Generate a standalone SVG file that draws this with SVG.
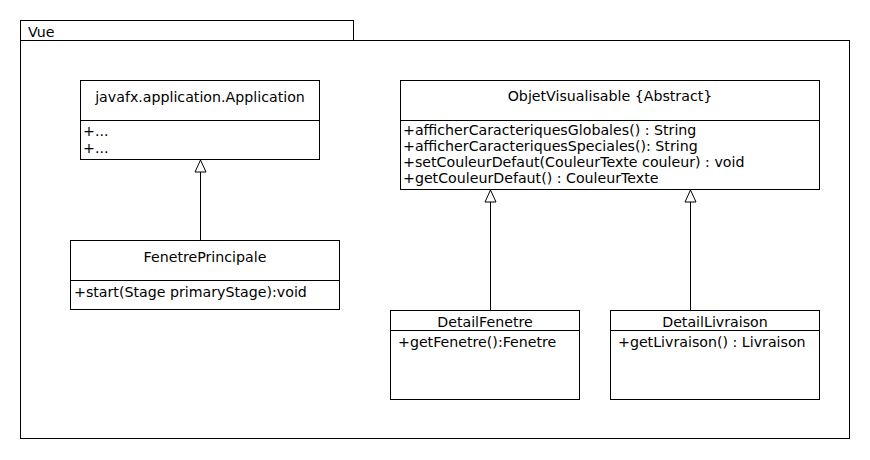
<svg xmlns="http://www.w3.org/2000/svg" width="870" height="460" viewBox="0 0 870 460">
<defs>
<style>
rect,line{fill:#fff;stroke:#000;stroke-width:1}
text{font-family:"DejaVu Sans",sans-serif;font-size:14.2px;fill:#000}
.c{text-anchor:middle}
.conn line{fill:none}
</style>
<marker id="gen" markerWidth="14" markerHeight="14" refX="13" refY="6.5" orient="auto" markerUnits="userSpaceOnUse">
<path d="M1,1 L13,6.5 L1,12 Z" fill="#fff" stroke="#000" stroke-width="1"/>
</marker>
</defs>
<g id="pkg-Vue">
<rect x="20.5" y="20.5" width="333" height="20"/>
<rect x="20.5" y="40.5" width="829" height="398"/>
<text x="28" y="37">Vue</text>
</g>
<g id="Application">
<rect x="80.5" y="80.5" width="239" height="79"/>
<line x1="80.5" y1="120.5" x2="319.5" y2="120.5"/>
<text class="c" x="200" y="102">javafx.application.Application</text>
<text x="83" y="136">+...</text>
<text x="83" y="153">+...</text>
</g>
<g id="FenetrePrincipale">
<rect x="70.5" y="240.5" width="269" height="69"/>
<line x1="70.5" y1="280.5" x2="339.5" y2="280.5"/>
<text class="c" x="205" y="262">FenetrePrincipale</text>
<text x="74" y="297">+start(Stage primaryStage):void</text>
</g>
<g id="ObjetVisualisable">
<rect x="400.5" y="80.5" width="419" height="109"/>
<line x1="400.5" y1="120.5" x2="819.5" y2="120.5"/>
<text class="c" x="610" y="101">ObjetVisualisable {Abstract}</text>
<text x="403" y="135">+afficherCaracteriquesGlobales() : String</text>
<text x="403" y="151">+afficherCaracteriquesSpeciales(): String</text>
<text x="403" y="167">+setCouleurDefaut(CouleurTexte couleur) : void</text>
<text x="403" y="183">+getCouleurDefaut() : CouleurTexte</text>
</g>
<g id="DetailFenetre">
<rect x="390.5" y="310.5" width="189" height="89"/>
<line x1="390.5" y1="330.5" x2="579.5" y2="330.5"/>
<text class="c" x="485" y="327">DetailFenetre</text>
<text x="398" y="347">+getFenetre():Fenetre</text>
</g>
<g id="DetailLivraison">
<rect x="610.5" y="310.5" width="209" height="89"/>
<line x1="610.5" y1="330.5" x2="819.5" y2="330.5"/>
<text class="c" x="715" y="327">DetailLivraison</text>
<text x="618" y="347">+getLivraison() : Livraison</text>
</g>
<g id="connectors" class="conn">
<line x1="200.5" y1="240" x2="200.5" y2="160" marker-end="url(#gen)"/>
<line x1="490.5" y1="310" x2="490.5" y2="190" marker-end="url(#gen)"/>
<line x1="690.5" y1="310" x2="690.5" y2="190" marker-end="url(#gen)"/>
</g>
</svg>
